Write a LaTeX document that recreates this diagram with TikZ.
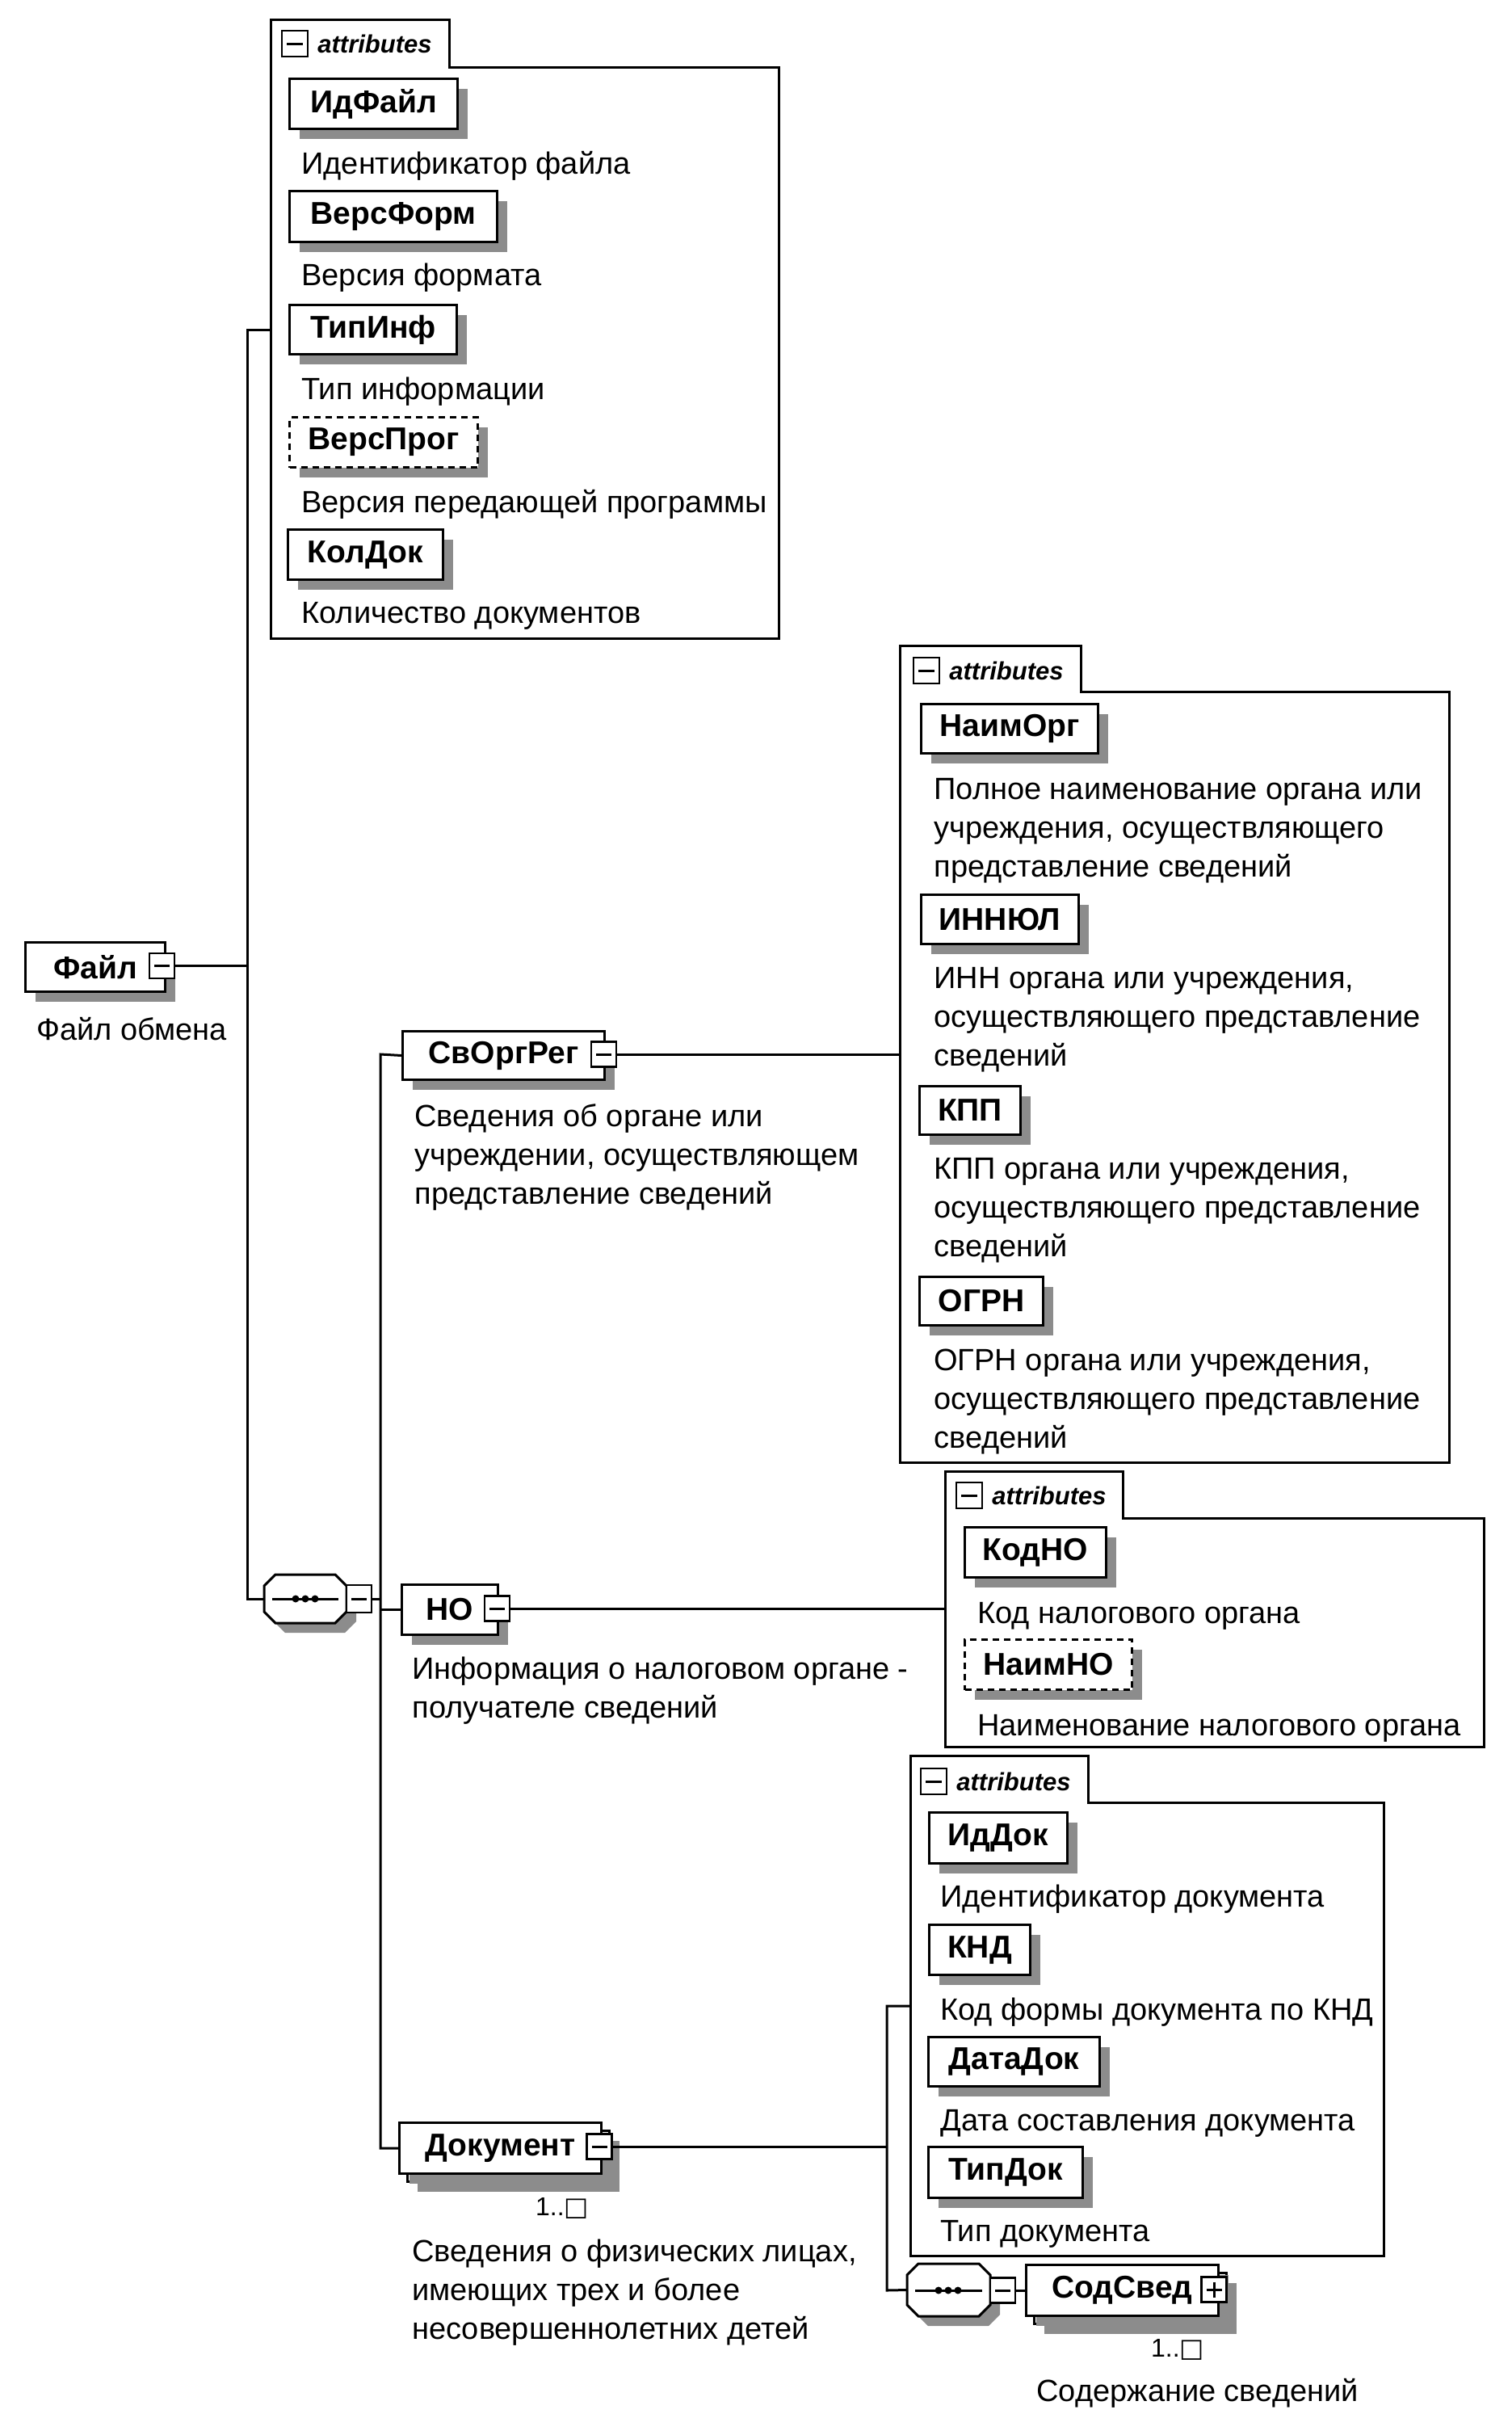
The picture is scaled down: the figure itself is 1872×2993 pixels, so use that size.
\documentclass[tikz,border=0pt]{standalone}
\usepackage{fontspec}
\setmainfont{Liberation Sans}
\newfontfamily\symfont{DejaVu Sans}
\usetikzlibrary{shadows}
\newcommand\elfont{\fontsize{19.5pt}{23pt}\selectfont\bfseries}
\newcommand\descfont{\fontsize{19pt}{24pt}\selectfont}
\newcommand\tabfont{\fontsize{15.5pt}{18pt}\selectfont\bfseries\itshape}
\newcommand\multfont{\fontsize{16pt}{18pt}\selectfont}
\tikzset{
  conn/.style={line width=1.5pt},
  shad/.style={drop shadow={shadow xshift=6pt, shadow yshift=-6pt, opacity=1, fill=black!45}},
  elem/.style={draw, line width=1.5pt, fill=white, inner sep=0pt, anchor=north west, font=\elfont, shad},
  back/.style={draw, line width=1.5pt, fill=white, inner sep=0pt, anchor=north west, shad},
  opt/.style={elem, dash pattern=on 4pt off 3pt},
  grp/.style={draw, line width=1.5pt, fill=white},
  icon/.style={draw, line width=1.1pt, fill=white, minimum width=15.5pt, minimum height=15.5pt, inner sep=0pt,
    path picture={\draw[line width=1.5pt] ([xshift=3pt]path picture bounding box.west) -- ([xshift=-3pt]path picture bounding box.east);}},
  picon/.style={icon,
    path picture={\draw[line width=1.5pt] ([xshift=3pt]path picture bounding box.west) -- ([xshift=-3pt]path picture bounding box.east)
      ([yshift=-3pt]path picture bounding box.north) -- ([yshift=3pt]path picture bounding box.south);}},
  desc/.style={anchor=west, inner sep=0pt, font=\descfont, align=left},
  tabtxt/.style={anchor=west, inner sep=0pt, font=\tabfont},
  mult/.style={inner sep=0pt, font=\multfont},
  comp/.style={draw, line width=1.5pt, fill=white, shad},
}
\begin{document}
\begin{tikzpicture}[x=0.5pt, y=-0.5pt]
\useasboundingbox (0,0) rectangle (1872,2993);
\fill[white] (0,0) rectangle (1872,2993);

% ---------- connector coordinates ----------
\coordinate (a1) at (335,408);
\coordinate (v1a) at (306,408);
\coordinate (v1b) at (306,1979);
\coordinate (v2a) at (471,1305);
\coordinate (a2) at (1114,1305);
\coordinate (a3) at (1170,1991);
\coordinate (a4) at (1127,2483);
\coordinate (v3a) at (1098,2483);
\coordinate (v3b) at (1098,2835);

% ---------- main element nodes (named, placed first for connectors) ----------
\node[minimum width=51pt, minimum height=30pt, inner sep=0pt] (comp1) at (378,1979) {};
\node[minimum width=51.5pt, minimum height=32.5pt, inner sep=0pt] (comp2) at (1174.5,2834.5) {};

% ---------- attribute groups ----------
\draw[grp] (335,790) -- (335,24) -- (556,24) -- (556,83) -- (964,83) -- (964,790) -- cycle;
\draw[grp] (1114,1810) -- (1114,799) -- (1338,799) -- (1338,856) -- (1794,856) -- (1794,1810) -- cycle;
\draw[grp] (1170,2162) -- (1170,1821) -- (1390,1821) -- (1390,1879) -- (1837,1879) -- (1837,2162) -- cycle;
\draw[grp] (1127,2792) -- (1127,2173) -- (1347,2173) -- (1347,2231) -- (1713,2231) -- (1713,2792) -- cycle;

\node[icon, minimum width=16pt, minimum height=16pt] (t1I) at (365,54) {};
\node[tabtxt] (t1) at (393,54) {attributes};
\node[icon, minimum width=16pt, minimum height=16pt] (t2I) at (1147,830) {};
\node[tabtxt] (t2) at (1175,830) {attributes};
\node[icon, minimum width=16pt, minimum height=16pt] (t3I) at (1200,1851) {};
\node[tabtxt] (t3) at (1228,1851) {attributes};
\node[icon, minimum width=16pt, minimum height=16pt] (t4I) at (1156,2205) {};
\node[tabtxt] (t4) at (1184,2205) {attributes};

% ---------- group 1 ----------
\node[elem, minimum width=104pt, minimum height=31pt] (idfile) at (357,96) {ИдФайл};
\node[desc] (didfile) at (373,205) {Идентификатор файла};
\node[elem, minimum width=128.5pt, minimum height=31.5pt] (versform) at (357,235) {ВерсФорм};
\node[desc] (dversform) at (373,344) {Версия формата};
\node[elem, minimum width=103.5pt, minimum height=30.5pt] (tipinf) at (357,376) {ТипИнф};
\node[desc] (dtipinf) at (373,485) {Тип информации};
\node[opt, minimum width=116.5pt, minimum height=31pt] (versprog) at (357,515) {ВерсПрог};
\node[desc] (dversprog) at (373,624) {Версия передающей программы};
\node[elem, minimum width=96pt, minimum height=31pt] (koldok) at (355,654) {КолДок};
\node[desc] (dkoldok) at (373,762) {Количество документов};

% ---------- group 2 ----------
\node[elem, minimum width=109.5pt, minimum height=30.5pt] (naimorg) at (1139,870) {НаимОрг};
\node[desc] (dnaimorg) at (1156,1028) {Полное наименование органа или\\учреждения, осуществляющего\\представление сведений};
\node[elem, minimum width=97.5pt, minimum height=30.5pt] (innul) at (1139,1106) {ИННЮЛ};
\node[desc] (dinnul) at (1156,1262) {ИНН органа или учреждения,\\осуществляющего представление\\сведений};
\node[elem, minimum width=62.5pt, minimum height=30pt] (kpp) at (1137,1343) {КПП};
\node[desc] (dkpp) at (1156,1498) {КПП органа или учреждения,\\осуществляющего представление\\сведений};
\node[elem, minimum width=76.5pt, minimum height=30pt] (ogrn) at (1137,1579) {ОГРН};
\node[desc] (dogrn) at (1156,1735) {ОГРН органа или учреждения,\\осуществляющего представление\\сведений};

% ---------- group 3 ----------
\node[elem, minimum width=87.5pt, minimum height=31pt] (kodno) at (1193,1889) {КодНО};
\node[desc] (dkodno) at (1210,2000) {Код налогового органа};
\node[opt, minimum width=103.5pt, minimum height=31pt] (naimno) at (1193,2028) {НаимНО};
\node[desc] (dnaimno) at (1210,2139) {Наименование налогового органа};

% ---------- group 4 ----------
\node[elem, minimum width=85.5pt, minimum height=31.5pt] (iddok) at (1149,2242) {ИдДок};
\node[desc] (diddok) at (1164,2351) {Идентификатор документа};
\node[elem, minimum width=62.5pt, minimum height=31pt] (knd) at (1149,2381) {КНД};
\node[desc] (dknd) at (1164,2491) {Код формы документа по КНД};
\node[elem, minimum width=106pt, minimum height=30.5pt] (datadok) at (1148,2520) {ДатаДок};
\node[desc] (ddatadok) at (1164,2628) {Дата составления документа};
\node[elem, minimum width=95.5pt, minimum height=31.5pt] (tipdok) at (1148,2656) {ТипДок};
\node[desc] (dtipdok) at (1164,2765) {Тип документа};

% ---------- main tree elements ----------
\node[elem, minimum width=86.5pt, minimum height=30.5pt] (file) at (30,1165) {Файл\hspace{5pt}};
\node[desc] (dfile) at (45,1274) {Файл обмена};
\node[elem, minimum width=125pt, minimum height=30pt] (svorg) at (497,1275) {СвОргРег\hspace{4pt}};
\node[desc] (dsvorg) at (513,1432) {Сведения об органе или\\учреждении, осуществляющем\\представление сведений};
\node[elem, minimum width=59.5pt, minimum height=31pt] (no) at (496,1960) {НО\hspace{4pt}};
\node[desc] (dno) at (510,2093) {Информация о налоговом органе -\\получателе сведений};
\node[back, minimum width=125pt, minimum height=31.5pt] (docB) at (503,2636) {};
\node[elem, minimum width=125pt, minimum height=31.5pt, drop shadow={opacity=0}] (doc) at (493,2626) {Документ\hspace{6pt}};
\node[mult] (mdoc) at (696,2733) {1..{\symfont □}};
\node[desc] (ddoc) at (510,2838) {Сведения о физических лицах,\\имеющих трех и более\\несовершеннолетних детей};
\node[back, minimum width=119pt, minimum height=31.5pt] (sodB) at (1279,2812) {};
\node[elem, minimum width=119pt, minimum height=31.5pt, drop shadow={opacity=0}] (sod) at (1269,2802) {СодСвед\hspace{5pt}};
\node[mult] (msod) at (1458,2908) {1..{\symfont □}};
\node[desc] (dsod) at (1283,2962) {Содержание сведений};

% ---------- compositors ----------
\draw[comp] (327,1963) -- (341,1949) -- (415,1949) -- (429,1963) -- (429,1995) -- (415,2009) -- (341,2009) -- (327,1995) -- cycle;
\draw[line width=1.5pt] (337,1979) -- (419,1979);
\fill (366,1979) circle[radius=4.5] (378,1979) circle[radius=4.5] (390,1979) circle[radius=4.5];
\draw[comp] (1123,2816) -- (1137,2802) -- (1212,2802) -- (1226,2816) -- (1226,2853) -- (1212,2867) -- (1137,2867) -- (1123,2853) -- cycle;
\draw[line width=1.5pt] (1133,2835) -- (1216,2835);
\fill (1162,2835) circle[radius=4.5] (1174,2835) circle[radius=4.5] (1186,2835) circle[radius=4.5];

% ---------- icons ----------
\node[icon] (fileI) at (200.5,1195.5) {};
\node[icon] (svI) at (747.5,1305) {};
\node[icon, minimum height=17pt] (comp1I) at (444.5,1979) {};
\node[icon] (noI) at (615.5,1991) {};
\node[icon] (docI) at (742,2657) {};
\node[icon] (comp2I) at (1241.5,2835) {};
\node[picon] (sodI) at (1503,2834) {};

% ---------- connectors ----------
\begin{scope}[on background layer/.style={}]
\draw[conn] (fileI.east) -- (fileI.east -| v1a);
\draw[conn] (a1) -- (v1a) -- (v1b) -- (comp1.west);
\draw[conn] (comp1I.east) -- (comp1I.east -| v2a);
\draw[conn] (svorg.west) -- (v2a) -- (v2a |- doc.west) -- (doc.west);
\draw[conn] (no.west) -- (no.west -| v2a);
\draw[conn] (svI.east) -- (a2);
\draw[conn] (noI.east) -- (a3);
\draw[conn] (docI.east) -- (docI.east -| v3a);
\draw[conn] (a4) -- (v3a) -- (v3b) -- (comp2.west);
\draw[conn] (comp2I.east) -- (sod.west);
\end{scope}
\end{tikzpicture}
\end{document}
